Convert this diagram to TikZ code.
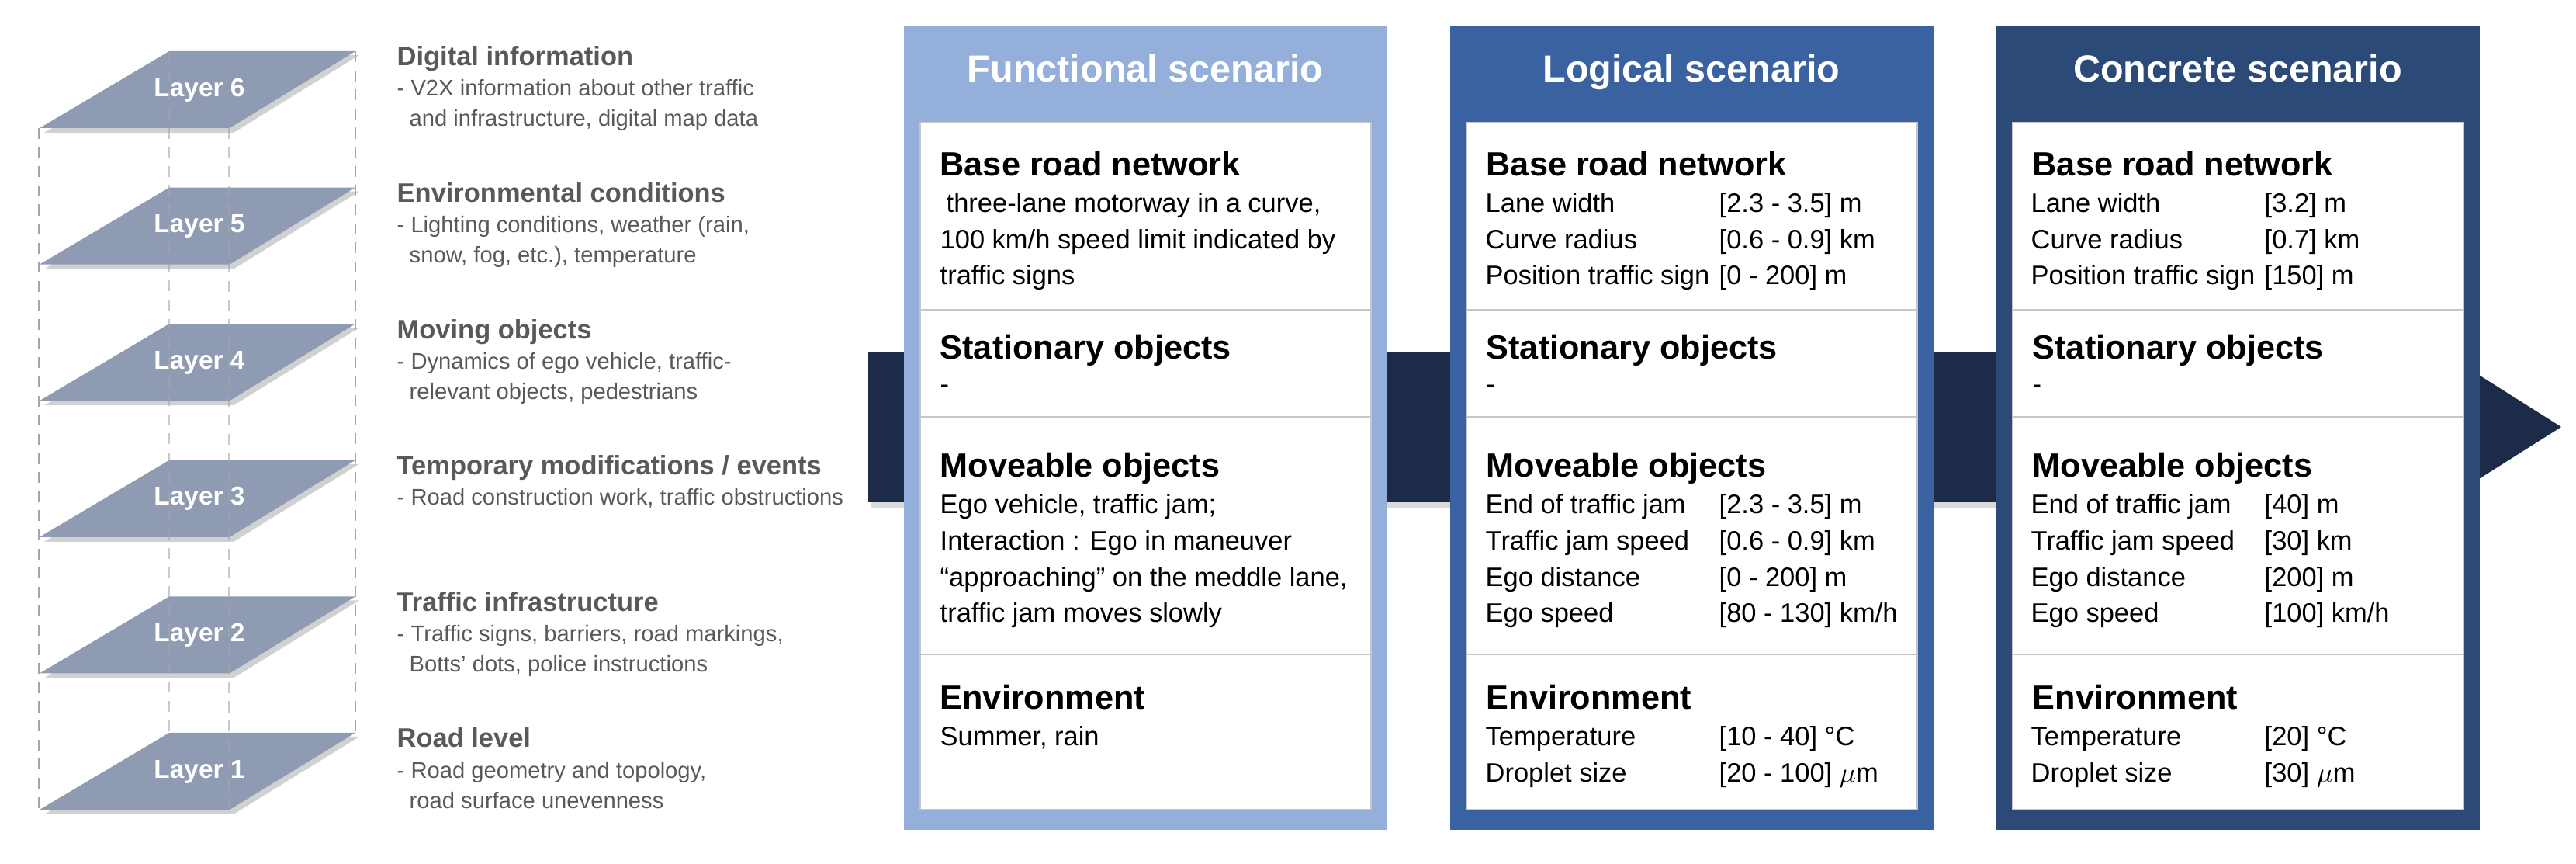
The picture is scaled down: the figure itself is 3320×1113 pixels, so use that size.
\documentclass[tikz,border=0pt]{standalone}
\usepackage{fontspec}
\setmainfont{Liberation Sans}
\usepackage{textcomp}
\begin{document}
\begin{tikzpicture}[x=0.01cm,y=-0.01cm,
  layer/.style={fill=layerc,draw=none},
  layertxt/.style={font=\bfseries\fontsize{9.5}{10}\selectfont,text=white},
  guide/.style={draw=gray!70,dash pattern=on 4pt off 3pt,line width=0.5pt},
  lhead/.style={anchor=base west,inner sep=0,font=\bfseries\fontsize{9.8}{12}\selectfont,text=txtgrey},
  lsub/.style={anchor=base west,inner sep=0,font=\fontsize{8.3}{11.4}\selectfont,text=txtgrey,align=left},
  ptitle/.style={anchor=base,inner sep=0,font=\bfseries\fontsize{13.8}{15}\selectfont,text=white},
  inner/.style={fill=white,draw=gray!45,line width=0.8pt},
  sec/.style={draw=gray!45,line width=0.8pt},
  phead/.style={anchor=base west,inner sep=0,font=\bfseries\fontsize{12.3}{14}\selectfont},
  pbody/.style={anchor=base west,inner sep=0,font=\fontsize{9.8}{11}\selectfont},
]
\definecolor{layerc}{HTML}{8E9BB3}
\definecolor{txtgrey}{HTML}{595959}
\definecolor{funcc}{HTML}{94AFD9}
\definecolor{logc}{HTML}{3A62A0}
\definecolor{concc}{HTML}{2C4A78}
\definecolor{bandc}{HTML}{1C2B48}
\useasboundingbox (0,0) rectangle (3320,1113);

% ---------------- layers ----------------
\foreach \i/\t in {6/66,5/241.6,4/417.2,3/592.8,2/768.4,1/944}{
  \fill[black!18] (224,\t+5) -- (463,\t+5) -- (301,\t+105) -- (57,\t+105) -- cycle;
  \path[layer] (218,\t) -- (458,\t) -- (296,\t+99) -- (51,\t+99) -- cycle;
  \node[layertxt] (L\i) at (257,\t+50) {Layer \i};
}
\coordinate (g1a) at (50,165);  \coordinate (g1b) at (50,1043);
\coordinate (g2a) at (218,66);  \coordinate (g2b) at (218,944);
\coordinate (g3a) at (295,165); \coordinate (g3b) at (295,1043);
\coordinate (g4a) at (458,66);  \coordinate (g4b) at (458,944);
\draw[guide] (g1a) -- (g1b);
\draw[guide,opacity=0.6] (g2a) -- (g2b);
\draw[guide,opacity=0.6] (g3a) -- (g3b);
\draw[guide] (g4a) -- (g4b);

% ---------------- layer descriptions ----------------
\node[lhead] (h6) at (511,85) {Digital information};
\node[lsub]  (s6) at (511,124) {- V2X information about other traffic};
\node[lsub]  (t6) at (527,163) {and infrastructure, digital map data};
\node[lhead] (h5) at (511,260.6) {Environmental conditions};
\node[lsub]  (s5) at (511,299.6) {- Lighting conditions, weather (rain,};
\node[lsub]  (t5) at (527,338.6) {snow, fog, etc.), temperature};
\node[lhead] (h4) at (511,436.2) {Moving objects};
\node[lsub]  (s4) at (511,475.2) {- Dynamics of ego vehicle, traffic-};
\node[lsub]  (t4) at (527,514.2) {relevant objects, pedestrians};
\node[lhead] (h3) at (511,611.8) {Temporary modifications / events};
\node[lsub]  (s3) at (511,650.8) {- Road construction work, traffic obstructions};
\node[lhead] (h2) at (511,787.4) {Traffic infrastructure};
\node[lsub]  (s2) at (511,826.4) {- Traffic signs, barriers, road markings,};
\node[lsub]  (t2) at (527,865.4) {Botts' dots, police instructions};
\node[lhead] (h1) at (511,963) {Road level};
\node[lsub]  (s1) at (511,1002) {- Road geometry and topology,};
\node[lsub]  (t1) at (527,1041) {road surface unevenness};

% ---------------- band arrow ----------------
\fill[black!15] (1122,460) rectangle (3000,655);
\fill[bandc] (1119,454) rectangle (3000,647);
\fill[bandc] (3000,360) -- (3301,550) -- (3000,740) -- cycle;
\coordinate (tip) at (3301,550);

% ---------------- panels ----------------
\newcommand{\panel}[4]{% #1 name, #2 left x, #3 colour, #4 title
  \fill[#3] (#2,34) rectangle ++(623,1035);
  \node[ptitle] (#1title) at (#2+311,106) {#4};
  \path[inner] (#2+21,158) rectangle ++(581,885);
  \draw[sec] (#2+21,399) -- ++(581,0);
  \draw[sec] (#2+21,537) -- ++(581,0);
  \draw[sec] (#2+21,843) -- ++(581,0);
  \node[phead] (#1h1) at (#2+46,227) {Base road network};
  \node[phead] (#1h2) at (#2+46,463) {Stationary objects};
  \node[pbody] (#1d)  at (#2+46,507) {-};
  \node[phead] (#1h3) at (#2+46,615) {Moveable objects};
  \node[phead] (#1h4) at (#2+46,913) {Environment};
}
\panel{F}{1165}{funcc}{Functional scenario}
\panel{G}{1869}{logc}{Logical scenario}
\panel{C}{2573}{concc}{Concrete scenario}

% Functional texts
\node[pbody] (f1) at (1219,274) {three-lane motorway in a curve,};
\node[pbody] (f2) at (1211,321) {100 km/h speed limit indicated by};
\node[pbody] (f3) at (1211,367) {traffic signs};
\node[pbody] (f4) at (1211,662) {Ego vehicle, traffic jam;};
\node[pbody] (f5) at (1211,709) {Interaction : Ego in maneuver};
\node[pbody] (f6) at (1211,756) {``approaching'' on the meddle lane,};
\node[pbody] (f7) at (1211,802) {traffic jam moves slowly};
\node[pbody] (f8) at (1211,961) {Summer, rain};

% Logical texts
\foreach \n/\y/\a/\b in {a/274/Lane width/{[2.3 - 3.5] m},
                         b/321/Curve radius/{[0.6 - 0.9] km},
                         c/367/Position traffic sign/{[0 - 200] m},
                         d/662/End of traffic jam/{[2.3 - 3.5] m},
                         e/709/Traffic jam speed/{[0.6 - 0.9] km},
                         f/756/Ego distance/{[0 - 200] m},
                         g/802/Ego speed/{[80 - 130] km/h},
                         h/961/Temperature/{[10 - 40] \textdegree C},
                         i/1008/Droplet size/{[20 - 100] $\mu$m}}{
  \node[pbody] (GL\n) at (1914,\y) {\a};
  \node[pbody] (GV\n) at (2215,\y) {\b};
}
% Concrete texts
\foreach \n/\y/\a/\b in {a/274/Lane width/{[3.2] m},
                         b/321/Curve radius/{[0.7] km},
                         c/367/Position traffic sign/{[150] m},
                         d/662/End of traffic jam/{[40] m},
                         e/709/Traffic jam speed/{[30] km},
                         f/756/Ego distance/{[200] m},
                         g/802/Ego speed/{[100] km/h},
                         h/961/Temperature/{[20] \textdegree C},
                         i/1008/Droplet size/{[30] $\mu$m}}{
  \node[pbody] (CL\n) at (2617,\y) {\a};
  \node[pbody] (CV\n) at (2918,\y) {\b};
}
\end{tikzpicture}
\end{document}
